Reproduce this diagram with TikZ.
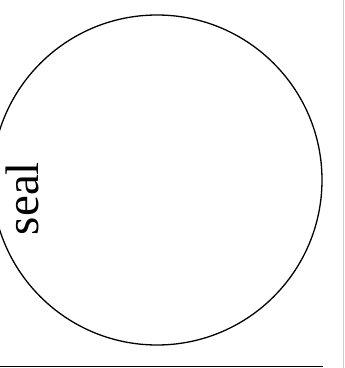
\documentclass[tikz,border=0pt]{standalone}
\usepackage{fontspec}
\setmainfont{Liberation Serif}
\usetikzlibrary{positioning}
\definecolor{rulegray}{HTML}{CCCCCC}

\begin{document}
\begin{tikzpicture}[x=1pt, y=1pt, line width=1.3pt]

% Page frame
\useasboundingbox (0,0) rectangle (345,368);
\clip (0,0) rectangle (345,368);

% Seal outline
\node[draw, circle, minimum size=330, inner sep=0pt] (seal) at (157,188) {};

% Label, turned on its side
\node[font=\fontsize{47}{47}\selectfont, rotate=90] (sealtext) at (22,169.5) {seal};

% Rule at the bottom and margin line at the right
\draw[line width=1pt] (0,1) -- (323,1);
\draw[rulegray, line width=1pt] (344,0) -- (344,368);

\end{tikzpicture}
\end{document}
